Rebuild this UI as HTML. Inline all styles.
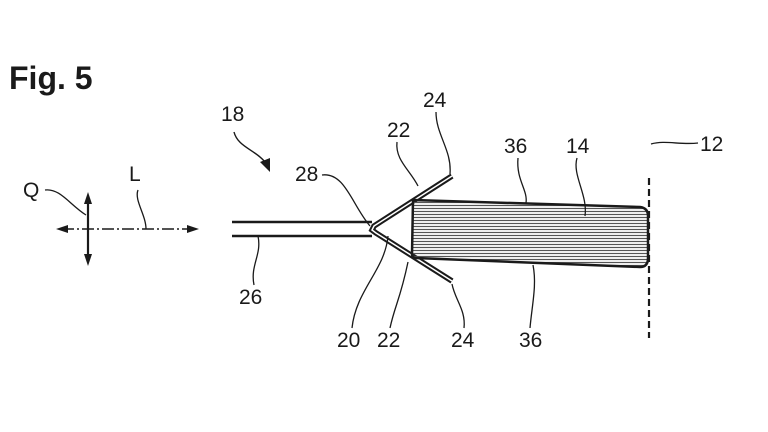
<!DOCTYPE html>
<html><head><style>body{margin:0;background:#fff}svg{display:block}</style></head><body>
<svg width="768" height="432" viewBox="0 0 768 432" xmlns="http://www.w3.org/2000/svg" font-family="Liberation Sans, sans-serif" fill="none" stroke="#1a1a1a">
<defs>
<pattern id="h" width="4" height="3" patternUnits="userSpaceOnUse"><line x1="0" y1="1.5" x2="4" y2="1.5" stroke="#555" stroke-width="1.2"/></pattern>
</defs>
<g fill="#1a1a1a" stroke="none" font-size="21">
<text x="9" y="89" font-size="32" font-weight="bold">Fig. 5</text>
<text x="23" y="197">Q</text>
<text x="129" y="181">L</text>
<text x="221" y="121">18</text>
<text x="295" y="181">28</text>
<text x="387" y="137">22</text>
<text x="423" y="107">24</text>
<text x="504" y="153">36</text>
<text x="566" y="153">14</text>
<text x="700" y="151">12</text>
<text x="239" y="304">26</text>
<text x="337" y="347">20</text>
<text x="377" y="347">22</text>
<text x="451" y="347">24</text>
<text x="519" y="347">36</text>
</g>
<!-- cross -->
<line x1="88" y1="198" x2="88" y2="262" stroke-width="2.2"/>
<polygon points="88,192 84,204 92,204" fill="#1a1a1a" stroke="none"/>
<polygon points="88,266 84,254 92,254" fill="#1a1a1a" stroke="none"/>
<line x1="62" y1="229" x2="193" y2="229" stroke-width="1.4" stroke-dasharray="12,3,2,3"/>
<polygon points="56,229 68,225 68,233" fill="#1a1a1a" stroke="none"/>
<polygon points="199,229 187,225 187,233" fill="#1a1a1a" stroke="none"/>
<path d="M45,190 C60,188 70,205 86,215" stroke-width="1.3"/>
<path d="M138,190 C134,200 146,215 146,229" stroke-width="1.3"/>
<path d="M234,132 C238,148 258,150 268,166" stroke-width="1.4"/>
<polygon points="270,172 260,162 270,158" fill="#1a1a1a" stroke="none"/>
<!-- tube -->
<line x1="232" y1="222" x2="372" y2="222" stroke-width="2.5"/>
<line x1="232" y1="236" x2="372" y2="236" stroke-width="2.5"/>
<!-- V -->
<path d="M452,176 L374,226 L372,230 L376,233 L452,281" stroke-width="5.5"/>
<path d="M452,176 L374,226 L372,230 L376,233 L452,281" stroke="#fff" stroke-width="1.5"/>
<!-- 14 body -->
<path d="M413,200 L640,207 Q648,208 648,216 L648,258 Q648,267 640,267 L416,258 Q412,258 412,254 Z" fill="url(#h)" stroke-width="2.5"/>
<line x1="649" y1="178" x2="649" y2="338" stroke-width="2.2" stroke-dasharray="7,4"/>
<!-- leaders -->
<g stroke-width="1.3">
<path d="M322,175 C345,172 352,205 370,226"/>
<path d="M397,142 C395,160 410,170 418,186"/>
<path d="M436,112 C436,135 452,150 450,174"/>
<path d="M518,158 C516,180 528,190 526,203"/>
<path d="M577,158 C572,175 588,195 585,216"/>
<path d="M651,144 C665,140 680,145 698,143"/>
<path d="M258,236 C262,255 250,265 254,285"/>
<path d="M352,328 C356,290 385,270 388,236"/>
<path d="M390,328 C395,305 400,300 408,262"/>
<path d="M464,328 C466,310 455,300 452,284"/>
<path d="M530,328 C532,305 537,285 533,265"/>
</g>
</svg>
</body></html>
